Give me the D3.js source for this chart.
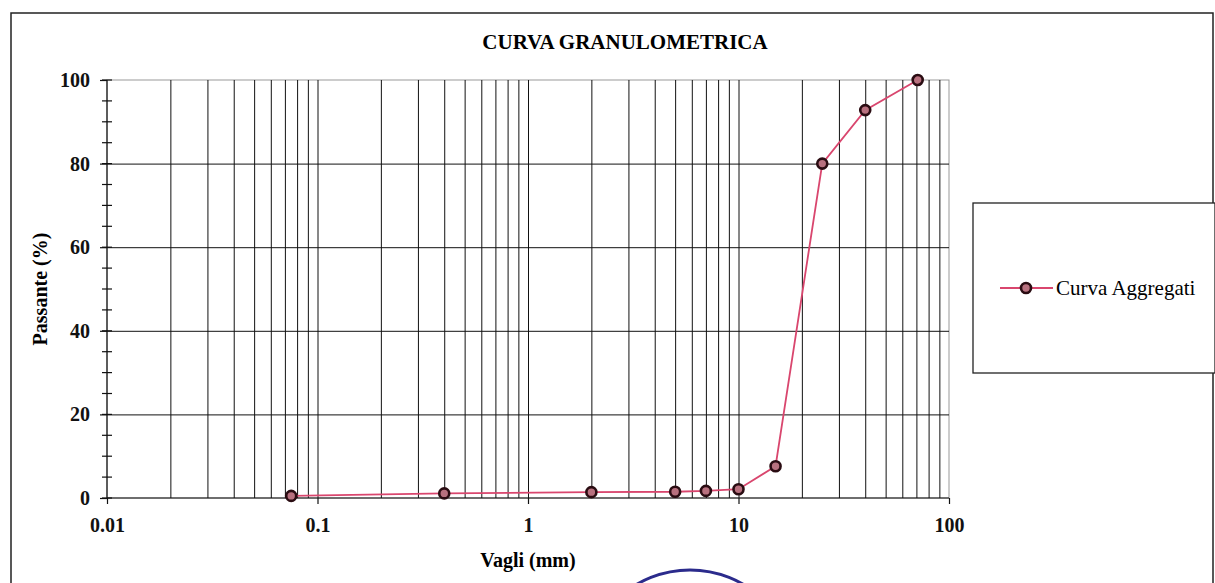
<!DOCTYPE html>
<html>
<head>
<meta charset="utf-8">
<script src="https://cdn.jsdelivr.net/npm/d3@7"></script>
<style>
  body { margin: 0; background: #fff; }
  svg { display: block; font-family: "Liberation Serif", "Times New Roman", serif; }
  .grid line { stroke: #111; stroke-width: 1; }
  .grid path { stroke: none; }
  .axis path, .axis line { stroke: #111; stroke-width: 1.2; }
  .axis text { font-family: "Liberation Serif", "Times New Roman", serif; font-size: 20px; font-weight: bold; fill: #111; }
</style>
</head>
<body>
<script>
// sieve openings (mm) and percent passing
const sieves  = [0.075, 0.4, 2, 5, 7, 10, 15, 25, 40, 71];
const passing = [0.5, 1.1, 1.4, 1.5, 1.7, 2.1, 7.6, 80, 92.8, 100];
const xTicks = [0.01, 0.1, 1, 10, 100];
const yTicks = [0, 20, 40, 60, 80, 100];
const yMinor = d3.range(0, 101, 5);
const seriesName = 'Curva Aggregati';

const W = 1215, H = 583;
let margin = {top: 80, right: W - 949, bottom: H - 498, left: 107},
  width = W - margin.left - margin.right,
  height = H - margin.top - margin.bottom;

let svg = d3.select('body').append('svg')
    .attr('width', W)
    .attr('height', H);

// outer frame of the chart area
svg.append('path')
    .attr('d', `M11,${H + 5} V13 H1213 V${H + 5}`)
    .attr('fill', 'none')
    .attr('stroke', '#222')
    .attr('stroke-width', 1.5);

let g = svg.append('g')
    .attr('transform', `translate(${margin.left},${margin.top})`);

let x = d3.scaleLog()
    .domain([0.01, 100])
    .range([0, width]);

let y = d3.scaleLinear()
    .domain([0, 100])
    .range([height, 0]);

// plot border (light)
g.append('rect')
    .attr('width', width)
    .attr('height', height)
    .attr('fill', 'none')
    .attr('stroke', '#999')
    .attr('stroke-width', 1);

// vertical log gridlines
g.append('g')
    .attr('class', 'grid')
    .attr('transform', `translate(0,${height})`)
    .call(d3.axisBottom(x)
      .tickValues(x.ticks().filter(d => d > 0.01 && d < 100))
      .tickSize(-height)
      .tickFormat(''));

// horizontal gridlines
g.append('g')
    .attr('class', 'grid')
    .call(d3.axisLeft(y)
      .tickValues(yTicks.filter(d => d > 0 && d < 100))
      .tickSize(-width)
      .tickFormat(''));

// y minor ticks crossing the axis
g.append('g')
    .selectAll('line')
    .data(yMinor)
    .join('line')
      .attr('x1', -5)
      .attr('x2', 5)
      .attr('y1', d => y(d))
      .attr('y2', d => y(d))
      .attr('stroke', '#111')
      .attr('stroke-width', 1.2);

// axes
g.append('g')
    .attr('class', 'axis')
    .attr('transform', `translate(0,${height})`)
    .call(d3.axisBottom(x)
      .tickValues(xTicks)
      .tickSize(6)
      .tickPadding(14)
      .tickFormat(d3.format('')))
    .call(a => a.select('.domain').attr('d', `M0,0H${width}`));

g.append('g')
    .attr('class', 'axis')
    .call(d3.axisLeft(y)
      .tickValues(yTicks)
      .tickSize(7)
      .tickPadding(10))
    .call(a => a.select('.domain').attr('d', `M0,0V${height}`));

// data line
const pts = sieves.map((s, i) => ({s: s, p: passing[i]}));
const lineColor = '#d9466e';

g.append('path')
    .datum(pts)
    .attr('fill', 'none')
    .attr('stroke', lineColor)
    .attr('stroke-width', 1.8)
    .attr('d', d3.line().x(d => x(d.s)).y(d => y(d.p)));

g.selectAll('.pt')
    .data(pts)
    .join('circle')
      .attr('class', 'pt')
      .attr('cx', d => x(d.s))
      .attr('cy', d => y(d.p))
      .attr('r', 5)
      .attr('fill', '#b8717f')
      .attr('stroke', '#2a0c12')
      .attr('stroke-width', 2.6);

// title
svg.append('text')
    .attr('x', 625)
    .attr('y', 49)
    .attr('text-anchor', 'middle')
    .style('font-size', '21px')
    .style('font-weight', 'bold')
    .text('CURVA GRANULOMETRICA');

// axis labels
svg.append('text')
    .attr('x', margin.left + width / 2)
    .attr('y', 567)
    .attr('text-anchor', 'middle')
    .style('font-size', '20px')
    .style('font-weight', 'bold')
    .text('Vagli (mm)');

svg.append('text')
    .attr('transform', `translate(47,${margin.top + height / 2}) rotate(-90)`)
    .attr('text-anchor', 'middle')
    .style('font-size', '20px')
    .style('font-weight', 'bold')
    .text('Passante (%)');

// legend
let legend = svg.append('g')
    .attr('transform', 'translate(973,203)');

legend.append('rect')
    .attr('width', 242)
    .attr('height', 170)
    .attr('fill', '#fff')
    .attr('stroke', '#222')
    .attr('stroke-width', 1.3);

legend.append('line')
    .attr('x1', 27).attr('x2', 80)
    .attr('y1', 85).attr('y2', 85)
    .attr('stroke', lineColor)
    .attr('stroke-width', 1.8);

legend.append('circle')
    .attr('cx', 53).attr('cy', 85)
    .attr('r', 5)
    .attr('fill', '#b8717f')
    .attr('stroke', '#2a0c12')
    .attr('stroke-width', 2.6);

legend.append('text')
    .attr('x', 83)
    .attr('y', 92)
    .style('font-size', '21px')
    .text(seriesName);

// partial stamp at the bottom edge of the scan
svg.append('circle')
    .attr('cx', 690)
    .attr('cy', 676)
    .attr('r', 106)
    .attr('fill', 'none')
    .attr('stroke', '#2b2b8c')
    .attr('stroke-width', 3);
</script>
</body>
</html>
